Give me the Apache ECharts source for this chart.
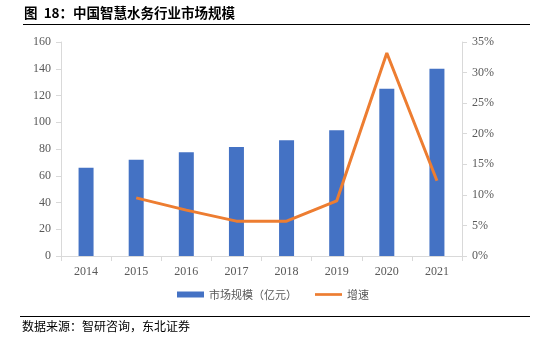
<!DOCTYPE html>
<html><head><meta charset="utf-8">
<script src="https://cdn.jsdelivr.net/npm/echarts@6/dist/echarts.min.js"></script>
<style>html,body{margin:0;padding:0;background:#fff}#c{width:546px;height:338px}</style>
</head><body><div id="c"></div>
<script>
const categories = ['2014','2015','2016','2017','2018','2019','2020','2021'];
const marketSize = [66, 72, 77.5, 81.5, 86.5, 94, 125, 140];
const growth = [null, 9.5, 7.5, 5.7, 5.7, 9.0, 33.2, 12.3];
const leftTicks = [0, 160, 20];
const rightTicks = [0, 35, 5];

const chart = echarts.init(document.getElementById('c'));
const axisText = {color:'#595959', fontFamily:'Liberation Serif', fontSize:12};
chart.setOption({
  animation:false,
  grid:{left:61, right:84, top:42, bottom:82},
  legend:{
    bottom:33, left:'center',
    itemWidth:27, itemHeight:6, itemGap:18,
    textStyle:{color:'#595959', fontFamily:'Noto Sans CJK SC', fontSize:11},
    data:[{name:'市场规模（亿元）', icon:'rect'}, {name:'增速', icon:'path://M0,0 H30 V3 H0 Z'}]
  },
  xAxis:{
    type:'category', data:categories,
    axisLine:{lineStyle:{color:'#d9d9d9'}},
    axisTick:{show:true, lineStyle:{color:'#d9d9d9'}},
    axisLabel:Object.assign({margin:10}, axisText)
  },
  yAxis:[{
    type:'value', min:leftTicks[0], max:leftTicks[1], interval:leftTicks[2],
    axisLine:{show:true, lineStyle:{color:'#d9d9d9'}},
    axisTick:{show:true, lineStyle:{color:'#d9d9d9'}},
    splitLine:{show:false},
    axisLabel:Object.assign({margin:10}, axisText)
  },{
    type:'value', min:rightTicks[0], max:rightTicks[1], interval:rightTicks[2],
    axisLine:{show:true, lineStyle:{color:'#d9d9d9'}},
    axisTick:{show:true, lineStyle:{color:'#d9d9d9'}},
    splitLine:{show:false},
    axisLabel:Object.assign({margin:10, formatter:'{value}%'}, axisText)
  }],
  series:[{
    name:'市场规模（亿元）', type:'bar', data:marketSize, barWidth:15,
    itemStyle:{color:'#4472C4'}
  },{
    name:'增速', type:'line', yAxisIndex:1, data:growth,
    symbol:'none', lineStyle:{color:'#ED7D31', width:3}, itemStyle:{color:'#ED7D31'}
  }],
  graphic:[
    {type:'text', left:24, top:6, style:{text:'图  18：中国智慧水务行业市场规模', fill:'#000', font:'bold 13.5px "Noto Sans CJK SC"'}},
    {type:'line', shape:{x1:23, y1:24.5, x2:530, y2:24.5}, style:{stroke:'#000', lineWidth:1.2}},
    {type:'line', shape:{x1:20, y1:316.5, x2:530, y2:316.5}, style:{stroke:'#000', lineWidth:1.2}},
    {type:'text', left:22, top:320, style:{text:'数据来源：智研咨询，东北证券', fill:'#000', font:'12px "Noto Sans CJK SC"'}}
  ]
});
</script></body></html>
